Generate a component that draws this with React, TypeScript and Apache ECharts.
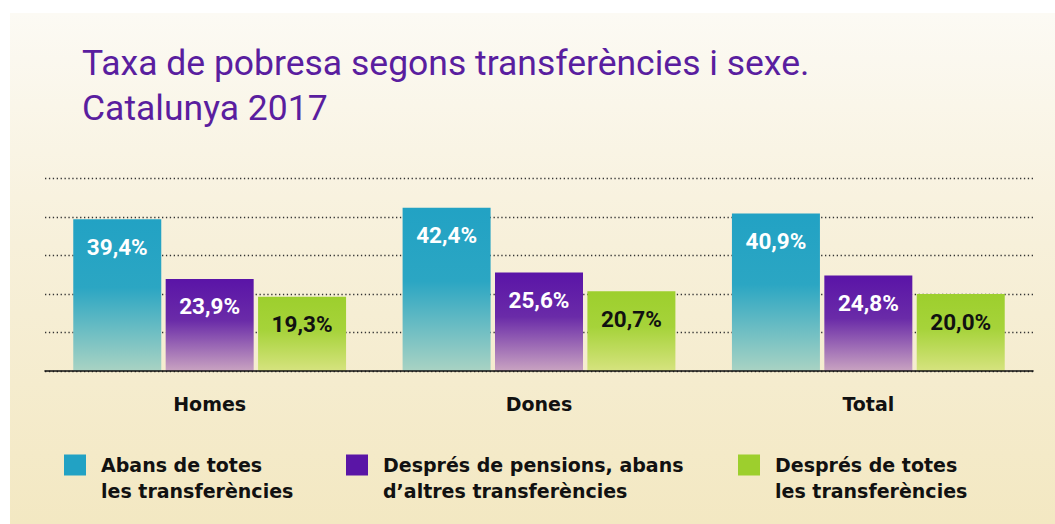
import React, { useEffect, useRef } from "react";
import * as echarts from "echarts";

const categories = ["Homes", "Dones", "Total"];
const seriesNames = [
  "Abans de totes les transferències",
  "Després de pensions, abans d’altres transferències",
  "Després de totes les transferències",
];
const legendLines = [
  ["Abans de totes", "les transferències"],
  ["Després de pensions, abans", "d’altres transferències"],
  ["Després de totes", "les transferències"],
];
const abansTotes = [39.4, 42.4, 40.9];
const despresPensions = [23.9, 25.6, 24.8];
const despresTotes = [19.3, 20.7, 20.0];
const seriesValues = [abansTotes, despresPensions, despresTotes];

const titleText = "Taxa de pobresa segons transferències i sexe.\nCatalunya 2017";

const solidColors = ["#22a2c4", "#5a15a6", "#9dcf2d"];
const gradients = [
  ["#22a2c4", "#2ba6c3", "#a9d3c3"],
  ["#5a14a7", "#6a2ba8", "#c9a3c1"],
  ["#9dcf2d", "#a6d33a", "#d6e37f"],
];
const labelColors = ["#ffffff", "#ffffff", "#111111"];
const legendLeft = [64, 346, 738];

export default function App() {
  const ref = useRef<HTMLDivElement>(null);
  useEffect(() => {
    if (!ref.current) return;
    const chart = echarts.init(ref.current, undefined, { renderer: "svg" });
    const fmt = (v: number) => v.toFixed(1).replace(".", ",") + "%";
    const legendText = {
      fontFamily: "'DejaVu Sans', sans-serif",
      fontWeight: "bold",
      fontSize: 19,
      color: "#111",
      lineHeight: 26,
    };
    const option: any = {
      animation: false,
      title: {
        text: titleText,
        left: 82,
        top: 40,
        padding: 0,
        textStyle: {
          fontFamily: "Roboto, 'Liberation Sans', sans-serif",
          fontSize: 35.5,
          fontWeight: "normal",
          color: "#5a1e9f",
          lineHeight: 45,
        },
      },
      grid: {
        left: 45,
        right: 22,
        top: 178.5,
        bottom: 153,
        containLabel: false,
        outerBoundsMode: "none",
      },
      xAxis: {
        type: "category",
        data: categories,
        axisTick: { show: false },
        axisLine: { lineStyle: { color: "#111", width: 1.6 } },
        axisLabel: {
          margin: 23,
          fontFamily: "'DejaVu Sans', sans-serif",
          fontWeight: "bold",
          fontSize: 19,
          color: "#111",
        },
        z: 5,
      },
      yAxis: {
        type: "value",
        min: 0,
        max: 50,
        interval: 10,
        axisLabel: { show: false },
        axisLine: { show: false },
        axisTick: { show: false },
        splitLine: {
          lineStyle: { color: "#333", width: 1.3, type: [1.3, 2.6] },
        },
      },
      legend: seriesNames.map((name, i) => ({
        data: [{ name, itemStyle: { color: solidColors[i] } }],
        left: legendLeft[i],
        top: 426,
        padding: 0,
        itemWidth: 22,
        itemHeight: 21,
        icon: "rect",
        selectedMode: false,
        formatter: () =>
          "{s| }\n{a|" + legendLines[i][0] + "}\n{a|" + legendLines[i][1] + "}",
        textStyle: {
          ...legendText,
          padding: [0, 0, 0, 10],
          rich: {
            a: { ...legendText },
            s: { ...legendText },
          },
        },
      })),
      series: seriesNames.map((name, i) => ({
        name,
        type: "bar",
        data: seriesValues[i],
        barWidth: 88,
        barGap: "5%",
        itemStyle: {
          color: new echarts.graphic.LinearGradient(0, 0, 0, 1, [
            { offset: 0, color: gradients[i][0] },
            { offset: 0.45, color: gradients[i][1] },
            { offset: 1, color: gradients[i][2] },
          ]),
        },
        label: {
          show: true,
          position: "insideTop",
          distance: 16,
          formatter: (p: any) => fmt(p.value),
          fontFamily: "Roboto, sans-serif",
          fontWeight: "bold",
          fontSize: 22.5,
          color: labelColors[i],
        },
      })),
    };
    chart.setOption(option);
    return () => chart.dispose();
  }, []);
  return (
    <div
      style={{
        position: "absolute",
        left: 0,
        top: 0,
        width: 1055,
        height: 524,
        background: "#ffffff",
        overflow: "hidden",
      }}
    >
      <div
        style={{
          position: "absolute",
          left: 10,
          top: 13,
          width: 1045,
          height: 511,
          background: "linear-gradient(to bottom, #fcfaf4 0%, #f7f0da 45%, #f3e8c2 100%)",
        }}
      />
      <div
        ref={ref}
        style={{ position: "absolute", left: 0, top: 0, width: 1055, height: 524 }}
      />
    </div>
  );
}
